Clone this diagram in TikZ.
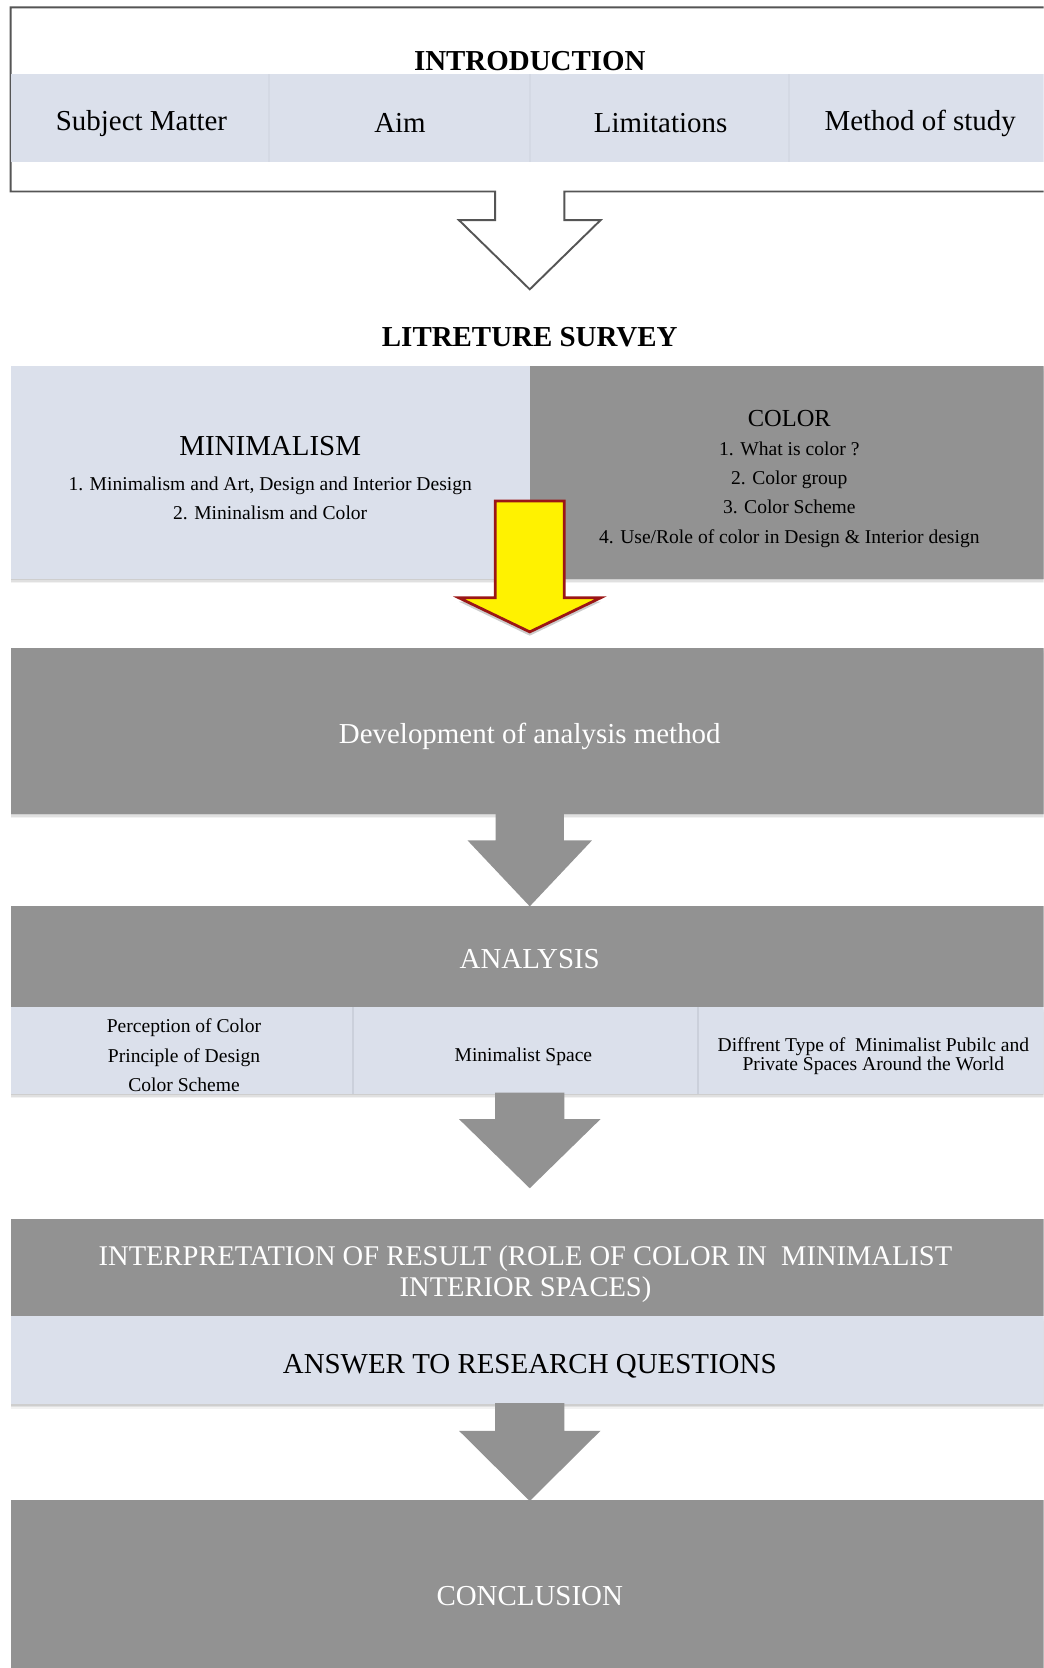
\documentclass[tikz,border=0pt]{standalone}
\usepackage{fontspec}
\setmainfont{Liberation Serif}
\usetikzlibrary{calc,shadows}
\definecolor{boxgray}{RGB}{146,146,146}
\definecolor{bandblue}{RGB}{219,224,235}
\definecolor{sepline}{RGB}{203,208,219}
\definecolor{sepfaint}{RGB}{212,217,228}
\definecolor{framegray}{RGB}{85,85,85}
\definecolor{arrowred}{RGB}{155,22,22}
\newcommand\fbig{\fontsize{13.6}{16}\selectfont}
\newcommand\fcol{\fontsize{11.5}{14}\selectfont}
\newcommand\fsmall{\fontsize{9.2}{13.7}\selectfont}
% #1 style, #2 start point, #3 shaft half width, #4 shaft length, #5 head half width, #6 tip distance
\newcommand\blockarrow[6][]{%
  \path[#1] ($(#2)+(-#3,-1)$) -- ($(#2)+(-#3,#4)$) -- ($(#2)+(-#5,#4)$)
    -- ($(#2)+(0,#6)$) -- ($(#2)+(#5,#4)$) -- ($(#2)+(#3,#4)$)
    -- ($(#2)+(#3,-1)$) -- cycle;}
\begin{document}
\begin{tikzpicture}[x=0.5pt,y=-0.5pt,
  blk/.style={rectangle, inner sep=0pt, outer sep=0pt, anchor=north west},
  wide/.style={blk, minimum width=488pt},
  graybox/.style={wide, fill=boxgray},
  band/.style={wide, fill=bandblue},
  shadowed/.style={
    drop shadow={shadow xshift=0pt, shadow yshift=-2.2pt, opacity=0.05, fill=black},
    drop shadow={shadow xshift=0pt, shadow yshift=-1.4pt, opacity=0.07, fill=black},
    drop shadow={shadow xshift=0pt, shadow yshift=-0.7pt, opacity=0.08, fill=black}},
  txt/.style={inner sep=0pt, align=center, text=black},
  wtxt/.style={inner sep=0pt, align=center, text=white},
  sep/.style={draw=sepline, line width=0.8pt},
  fsep/.style={draw=sepfaint, line width=0.8pt},
  grayarrow/.style={fill=boxgray},
  yellowarrow/.style={fill=yellow, draw=arrowred, line width=1.3pt, line join=miter,
     drop shadow={shadow xshift=0pt, shadow yshift=-1.8pt, opacity=0.2, fill=black}},
  hollow/.style={fill=white, draw=framegray, line width=0.9pt, line join=miter}
]
\useasboundingbox (0,0) rectangle (981,1568);
\clip (0,0) rectangle (981,1568);
\fill[white] (0,0) rectangle (981,1568);

% ---------- INTRODUCTION ----------
\node[wide, minimum height=86.5pt] (intro) at (10,7) {};
\coordinate (introS) at (intro.south);
\draw[hollow] ($(introS)+(-32.5,0)$) -| (intro.north west) -- (intro.north east)
   -- (intro.south east) -- ($(introS)+(32.5,0)$) -- ($(introS)+(32.5,27)$)
   -- ($(introS)+(66.5,27)$) -- ($(introS)+(0,92)$) coordinate (introtip)
   -- ($(introS)+(-66.5,27)$) -- ($(introS)+(-32.5,27)$) -- cycle;
\node[band, minimum height=41pt] (introband) at (10,70) {};
\draw[fsep] (253,70) -- (253,152) (498,70) -- (498,152) (742,70) -- (742,152);
\node[txt, font=\fbig\bfseries] (introT) at (498,57) {INTRODUCTION};
\node[txt, font=\fbig] (subj) at (133,116) {Subject Matter};
\node[txt, font=\fbig] (aim) at (376,116) {Aim};
\node[txt, font=\fbig] (lim) at (621,116) {Limitations};
\node[txt, font=\fbig] (meth) at (865,116) {Method of study};

% ---------- LITERATURE SURVEY ----------
\node[txt, font=\fbig\bfseries] (lit) at (498,317) {LITRETURE SURVEY};
\node[blk, fill=bandblue, minimum width=244pt, minimum height=100pt, shadowed] (minim) at (10,344) {};
\node[blk, fill=boxgray, minimum width=244pt, minimum height=100pt, shadowed] (color) at (498,344) {};
\node[txt, font=\fbig] (minT) at (254,419) {MINIMALISM};
\node[txt, font=\fsmall] (minL) at (254,468.5) {1. Minimalism and Art, Design and Interior Design\\2. Mininalism and Color};
\node[txt, font=\fcol] (colT) at (742,393) {COLOR};
\node[txt, font=\fsmall] (colL) at (742,465) {1. What is color ?\\2. Color group\\3. Color Scheme\\4. Use/Role of color in Design \& Interior design};

% ---------- Development ----------
\node[graybox, minimum height=78pt, shadowed] (dev) at (10,609) {};
\node[wtxt, font=\fbig] (devT) at (498,692) {Development of analysis method};
\coordinate (ystart) at (498,472);
\blockarrow[yellowarrow]{ystart}{32.5}{90}{66.5}{122}

% ---------- ANALYSIS ----------
\node[graybox, minimum height=47.5pt] (ana) at (10,852) {};
\node[band, minimum height=40.5pt, shadowed] (anaband) at (10,947) {};
\draw[sep] (332,947) -- (332,1028) (656,947) -- (656,1028);
\node[txt, font=\fbig, text=white] (anaT) at (498,902) {ANALYSIS};
\node[txt, font=\fsmall] (a1) at (173,992) {Perception of Color\\Principle of Design\\Color Scheme};
\node[txt, font=\fsmall] (a2) at (492,993) {Minimalist Space};
\node[txt, font=\fontsize{9.2}{9.2}\selectfont] (a3) at (821,993) {Diffrent Type of~ Minimalist Pubilc and\\Private Spaces Around the World};
\blockarrow[grayarrow]{dev.south}{32}{25}{58.5}{87}

% ---------- INTERPRETATION ----------
\node[graybox, minimum height=45.5pt] (interp) at (10,1146) {};
\node[band, minimum height=41.5pt, shadowed] (answer) at (10,1237) {};
\node[wtxt, font=\fontsize{13.4}{14.6}\selectfont] (interpT) at (494,1198) {INTERPRETATION OF RESULT (ROLE OF COLOR IN~ MINIMALIST\\INTERIOR SPACES)};
\node[txt, font=\fbig] (ansT) at (498,1284) {ANSWER TO RESEARCH QUESTIONS};
\blockarrow[grayarrow]{anaband.south}{32.5}{24}{66.5}{89}

% ---------- CONCLUSION ----------
\node[graybox, minimum height=82pt] (concl) at (10,1410) {};
\node[wtxt, font=\fbig] (conclT) at (498,1500) {CONCLUSION};
\blockarrow[grayarrow]{answer.south}{32.5}{25}{66.5}{91}
\end{tikzpicture}
\end{document}
